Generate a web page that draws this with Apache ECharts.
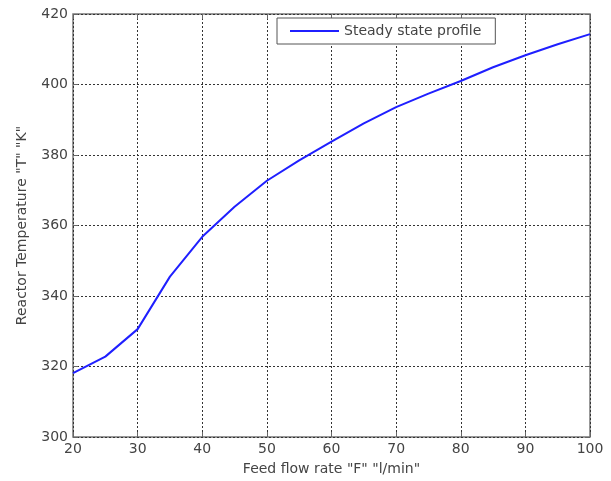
<!DOCTYPE html>
<html>
<head>
<meta charset="utf-8">
<script src="https://cdn.jsdelivr.net/npm/echarts@6/dist/echarts.min.js"></script>
<style>
  html, body { margin: 0; padding: 0; background: #fff; }
  #chart { width: 611px; height: 481px; }
</style>
</head>
<body>
<div id="chart"></div>
<script>
// feed flow rate F (l/min)
const flowRate = [20, 25, 30, 35, 40, 45, 50, 55, 60, 65, 70, 75, 80, 85, 90, 95, 100];
// steady state reactor temperature T (K)
const temperature = [318.1, 322.8, 330.6, 345.5, 356.8, 365.3, 372.7, 378.5, 383.8, 389.0, 393.6, 397.4, 401.0, 404.9, 408.3, 411.4, 414.3];
const xTicks = [20, 30, 40, 50, 60, 70, 80, 90, 100];
const yTicks = [300, 320, 340, 360, 380, 400, 420];

const font = "DejaVu Sans, sans-serif";
const txtColor = "#444";
const dotted = { color: "#333", width: 1, type: [2, 2] };
const tick = { show: true, inside: true, length: 5, lineStyle: { color: "#666" } };

// main axes + mirrored ones (top / right) that only carry inward ticks, like a boxed matlab plot
let xBase = {
  type: "value",
  min: xTicks[0],
  max: xTicks[xTicks.length - 1],
  interval: 10,
  axisLine: { show: false },
  axisTick: tick,
};
let yBase = {
  type: "value",
  min: yTicks[0],
  max: yTicks[yTicks.length - 1],
  interval: 20,
  axisLine: { show: false },
  axisTick: tick,
};

let option = {
  animation: false,
  grid: {
    left: 73,
    right: 21,
    top: 14,
    bottom: 44,
    outerBoundsMode: "none",
    show: true,
    borderColor: "#777",
    borderWidth: 1.5,
  },
  legend: {
    data: ["Steady state profile"],
    left: 277,
    top: 18,
    itemWidth: 49,
    itemHeight: 2,
    padding: [6, 14, 6, 13],
    borderColor: "#555",
    borderWidth: 1,
    backgroundColor: "#fff",
    icon: "rect",
    textStyle: { fontFamily: font, fontSize: 14, color: txtColor },
  },
  xAxis: [
    {
      ...xBase,
      position: "bottom",
      name: 'Feed flow rate "F" "l/min"',
      nameLocation: "middle",
      nameGap: 25,
      nameTextStyle: { fontFamily: font, fontSize: 14, color: txtColor },
      axisLabel: { fontFamily: font, fontSize: 14, color: txtColor, margin: 5 },
      splitLine: { show: true, lineStyle: dotted },
    },
    {
      ...xBase,
      position: "top",
      axisLabel: { show: false },
      splitLine: { show: false },
    },
  ],
  yAxis: [
    {
      ...yBase,
      position: "left",
      name: 'Reactor Temperature "T" "K"',
      nameLocation: "middle",
      nameGap: 44,
      nameTextStyle: { fontFamily: font, fontSize: 14, color: txtColor },
      axisLabel: { fontFamily: font, fontSize: 14, color: txtColor, margin: 5 },
      splitLine: { show: true, lineStyle: dotted },
    },
    {
      ...yBase,
      position: "right",
      axisLabel: { show: false },
      splitLine: { show: false },
    },
  ],
  series: [
    {
      name: "Steady state profile",
      type: "line",
      data: flowRate.map((f, i) => [f, temperature[i]]),
      showSymbol: false,
      lineStyle: { color: "#1f1fff", width: 2 },
      itemStyle: { color: "#1f1fff" },
    },
  ],
};

let myChart = echarts.init(document.getElementById("chart"));
myChart.setOption(option);
</script>
</body>
</html>
